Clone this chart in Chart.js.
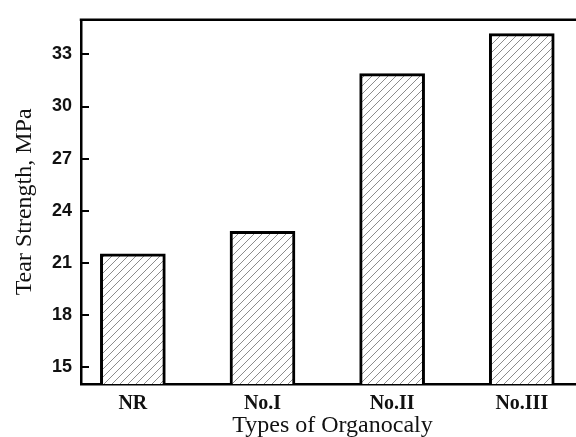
<!DOCTYPE html>
<html lang="en">
<head>
    <meta charset="UTF-8">
    <title>Tear Strength by Organoclay Type</title>
    <script src="https://cdnjs.cloudflare.com/ajax/libs/Chart.js/4.4.1/chart.umd.min.js"></script>
    <style>
        html, body {
            margin: 0;
            padding: 0;
            background: #fff;
            overflow: hidden;
        }
        .wrap {
            position: relative;
            width: 589px;
            height: 437px;
        }
    </style>
</head>
<body>
    <div class="wrap"><canvas id="tearChart"></canvas></div>

    <script>
        const categories = ['NR', 'No.I', 'No.II', 'No.III'];
        const tearStrength = [21.5, 22.8, 31.9, 34.2];
        const yTicks = [15, 18, 21, 24, 27, 30, 33];

        // Diagonal hatch fill for the bars
        function makeHatch() {
            const s = 8;
            const c = document.createElement('canvas');
            c.width = s;
            c.height = s;
            const g = c.getContext('2d');
            g.fillStyle = '#fff';
            g.fillRect(0, 0, s, s);
            g.strokeStyle = '#8c8c8c';
            g.lineWidth = 1;
            g.beginPath();
            g.moveTo(0, s);
            g.lineTo(s, 0);
            g.moveTo(-1, 1);
            g.lineTo(1, -1);
            g.moveTo(s - 1, s + 1);
            g.lineTo(s + 1, s - 1);
            g.stroke();
            return g.createPattern(c, 'repeat');
        }

        // Top/right frame lines and inward y ticks
        const framePlugin = {
            id: 'frame',
            afterDraw(chart) {
                const { ctx, chartArea } = chart;
                const y = chart.scales.y;
                ctx.save();
                ctx.strokeStyle = '#000';
                ctx.lineWidth = 2.5;
                ctx.beginPath();
                ctx.moveTo(chartArea.left - 1.25, chartArea.top);
                ctx.lineTo(chartArea.right, chartArea.top);
                ctx.lineTo(chartArea.right, chartArea.bottom);
                ctx.stroke();
                ctx.lineWidth = 2;
                ctx.beginPath();
                y.ticks.forEach(t => {
                    const py = Math.round(y.getPixelForValue(t.value));
                    ctx.moveTo(chartArea.left, py);
                    ctx.lineTo(chartArea.left + 8, py);
                });
                ctx.stroke();
                ctx.restore();
            }
        };

        const ctx = document.getElementById('tearChart').getContext('2d');
        new Chart(ctx, {
            type: 'bar',
            data: {
                datasets: [{
                    label: 'Tear Strength',
                    data: categories.map((c, i) => ({ x: i + 1, y: tearStrength[i] })),
                    backgroundColor: makeHatch(),
                    borderColor: '#000',
                    borderWidth: 3,
                    barThickness: 65
                }]
            },
            options: {
                responsive: true,
                maintainAspectRatio: false,
                animation: false,
                layout: { padding: { top: 14, right: 5, left: 0, bottom: 0 } },
                plugins: {
                    legend: { display: false },
                    tooltip: { enabled: false }
                },
                scales: {
                    x: {
                        type: 'linear',
                        offset: false,
                        min: 0.6,
                        max: 4.48,
                        afterBuildTicks: s => { s.ticks = categories.map((c, i) => ({ value: i + 1 })); },
                        afterFit: s => { s.height = 53; },
                        grid: { display: false, drawTicks: false, offset: false },
                        border: { display: true, color: '#000', width: 2.5 },
                        ticks: {
                            autoSkip: false,
                            maxRotation: 0,
                            padding: 8,
                            color: '#111',
                            font: { family: '"Liberation Serif", "Times New Roman", serif', size: 20, weight: 'bold' },
                            callback: v => categories[v - 1]
                        },
                        title: {
                            display: true,
                            text: 'Types of Organocaly',
                            color: '#111',
                            padding: 0,
                            font: { family: '"Liberation Serif", "Times New Roman", serif', size: 24, lineHeight: 0.9 }
                        }
                    },
                    y: {
                        min: 14,
                        max: 35,
                        afterBuildTicks: s => { s.ticks = yTicks.map(v => ({ value: v })); },
                        afterFit: s => { s.width = 81; },
                        grid: { drawOnChartArea: false, drawTicks: false },
                        border: { display: true, color: '#000', width: 2.5 },
                        ticks: {
                            padding: 9,
                            color: '#111',
                            font: { family: '"Liberation Sans", Arial, sans-serif', size: 18, weight: 'bold' }
                        },
                        title: {
                            display: true,
                            text: 'Tear Strength, MPa',
                            color: '#111',
                            padding: { top: 10, bottom: 0 },
                            font: { family: '"Liberation Serif", "Times New Roman", serif', size: 24 }
                        }
                    }
                }
            },
            plugins: [framePlugin]
        });
    </script>
</body>
</html>
